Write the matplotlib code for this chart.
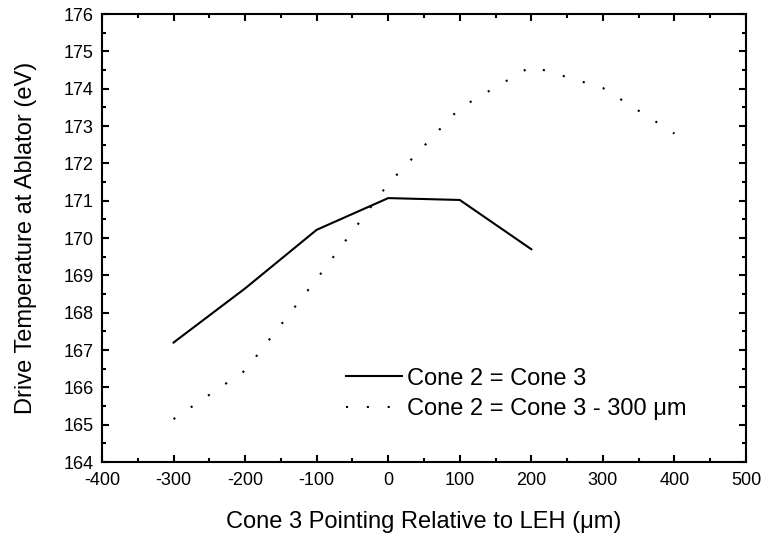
import numpy as np
import matplotlib
matplotlib.use('Agg')
import matplotlib.pyplot as plt
from matplotlib.ticker import MultipleLocator

plt.rcParams['font.family'] = ['Liberation Sans', 'DejaVu Sans']
plt.rcParams['axes.unicode_minus'] = False

# pointing (um) and drive temperature (eV)
x_same = [-300, -200, -100, 0, 100, 200]
t_same = [167.2, 168.65, 170.22, 171.07, 171.02, 169.7]

x_shift = [-300, -200, -100, 0, 100, 200, 300, 400]
t_shift = [165.15, 166.45, 168.9, 171.45, 173.48, 174.6, 174.02, 172.8]

labels = ['Cone 2 = Cone 3', 'Cone 2 = Cone 3 - 300 \u03bcm']

fig = plt.figure(figsize=(7.69, 5.41), dpi=100)
ax = fig.add_axes([0.1326, 0.146, 0.8375, 0.828])

ax.plot(x_same, t_same, color='black', lw=1.5, label=labels[0])
ax.plot(x_shift, t_shift, color='black', lw=1.5, linestyle=(0, (1, 9)),
        label=labels[1])

ax.set_xlim(-400, 500)
ax.set_ylim(164, 176)
ax.xaxis.set_major_locator(MultipleLocator(100))
ax.xaxis.set_minor_locator(MultipleLocator(50))
ax.yaxis.set_major_locator(MultipleLocator(1))
ax.yaxis.set_minor_locator(MultipleLocator(0.5))
ax.tick_params(which='both', direction='in', top=True, right=True,
               labelsize=13, width=1.5)
ax.tick_params(which='major', length=5)
ax.tick_params(which='minor', length=3)
ax.tick_params(axis='x', pad=7)
ax.tick_params(axis='y', pad=6)
for s in ax.spines.values():
    s.set_linewidth(1.5)

ax.set_xlabel('Cone 3 Pointing Relative to LEH (\u03bcm)', fontsize=17, labelpad=16)
ax.set_ylabel('Drive Temperature at Ablator (eV)', fontsize=17, labelpad=19)

ax.legend(loc='center left', bbox_to_anchor=(0.379, 0.152), frameon=False,
          fontsize=17, handlelength=2.35, handletextpad=0.25, borderpad=0,
          borderaxespad=0, labelspacing=0.36)

fig.savefig('out.png', dpi=100)
